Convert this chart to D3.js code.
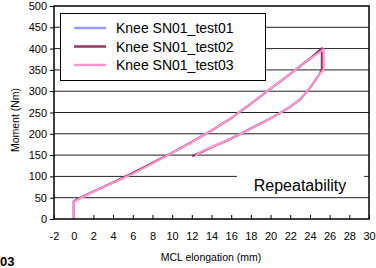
<!DOCTYPE html>
<html>
<head>
<meta charset="utf-8">
<script src="https://cdn.jsdelivr.net/npm/d3@7"></script>
<style>
  body { margin: 0; background: #fff; }
  svg { font-family: "Liberation Sans", Arial, sans-serif; }
</style>
</head>
<body>
<svg id="chart" width="376" height="268"></svg>
<script>
// series names and colours (Excel default palette)
var seriesNames = ['Knee SN01_test01', 'Knee SN01_test02', 'Knee SN01_test03'];
var seriesColors = ['#9999ff', '#993366', '#ff99cc'];

// loading + unloading path, elongation (mm) and moment (Nm)
var test01X = [0, 0, 0.3, 2, 4, 6, 8, 10, 12, 14, 16, 18, 20, 22, 24, 25.3,
               25.3, 25, 24.5, 24, 23, 22, 21, 20, 19, 18, 17, 16, 15, 14, 13, 12.1];
var test01Y = [0, 40, 45, 64, 85, 107, 131, 155, 180, 207, 236, 270, 305, 340, 375, 400,
               353, 342, 325, 308, 281, 264, 250, 237, 225, 213, 201, 190, 179, 169, 158, 147];

var test02X = [0, 0, 0.3, 2, 4, 6, 8, 10, 12, 14, 16, 18, 20, 22, 24, 25.2,
               25.2, 25, 24.5, 24, 23, 22, 21, 20, 19, 18, 17, 16, 15, 14, 13, 12.0];
var test02Y = [0, 41, 46, 65, 86, 108, 132, 156, 181, 208, 237, 271, 306, 341, 377, 401,
               351, 341, 324, 307, 280, 263, 249, 236, 224, 212, 200, 189, 178, 168, 157, 148];

var test03X = [0, 0, 0.3, 2, 4, 6, 8, 10, 12, 14, 16, 18, 20, 22, 24, 25.4,
               25.4, 25, 24.5, 24, 23, 22, 21, 20, 19, 18, 17, 16, 15, 14, 13, 12.4];
var test03Y = [0, 39, 44, 64, 85, 106, 130, 155, 180, 208, 237, 271, 306, 341, 376, 398,
               350, 341, 324, 307, 280, 263, 249, 236, 224, 212, 200, 190, 179, 169, 159, 149];

var xTicks = [-2, 0, 2, 4, 6, 8, 10, 12, 14, 16, 18, 20, 22, 24, 26, 28, 30];
var yTicks = [0, 50, 100, 150, 200, 250, 300, 350, 400, 450, 500];

var allX = [test01X, test02X, test03X];
var allY = [test01Y, test02Y, test03Y];

var svg = d3.select('#chart');
// plot area (don't call it "top", that's window.top)
var plotL = 54, plotR = 369, plotT = 6, plotB = 219;

var x = d3.scaleLinear().domain([-2, 30]).range([plotL, plotR]);
var y = d3.scaleLinear().domain([0, 500]).range([plotB, plotT]);

// plain hyphen minus like the original, not d3's unicode minus
var plainFmt = function(d) { return String(d); };

// horizontal gridlines
svg.append('g')
  .selectAll('line')
  .data(yTicks.slice(1, -1))
  .enter()
  .append('line')
  .attr('x1', plotL).attr('x2', plotR)
  .attr('y1', function(d) { return y(d); })
  .attr('y2', function(d) { return y(d); })
  .attr('stroke', '#222')
  .attr('stroke-width', 1);

// y axis, ticks outward
var yAxis = svg.append('g')
  .attr('transform', 'translate(' + plotL + ',0)')
  .call(d3.axisLeft(y).tickValues(yTicks).tickFormat(plainFmt).tickSize(4).tickPadding(3));
yAxis.select('.domain').remove();
yAxis.selectAll('text').attr('font-size', 11).attr('fill', '#000')
  .attr('font-family', '"Liberation Sans", Arial, sans-serif');
yAxis.selectAll('line').attr('stroke', '#000');

// x axis, ticks point up into the plot
var xAxis = svg.append('g')
  .attr('transform', 'translate(0,' + plotB + ')')
  .call(d3.axisBottom(x).tickValues(xTicks).tickFormat(plainFmt).tickSize(-4).tickPadding(13));
xAxis.select('.domain').remove();
xAxis.selectAll('text').attr('font-size', 11).attr('fill', '#000')
  .attr('font-family', '"Liberation Sans", Arial, sans-serif');
xAxis.selectAll('line').attr('stroke', '#000');

// "Repeatability" label box hides the gridline behind it
svg.append('rect')
  .attr('x', 237).attr('y', 175).attr('width', 127).attr('height', 22)
  .attr('fill', '#fff');
svg.append('text')
  .attr('x', 300).attr('y', 191)
  .attr('text-anchor', 'middle')
  .attr('font-size', 16)
  .text('Repeatability');

// curves
var line = d3.line()
  .x(function(d) { return x(d[0]); })
  .y(function(d) { return y(d[1]); });

seriesNames.forEach(function(name, i) {
  var pts = allX[i].map(function(v, j) { return [v, allY[i][j]]; });
  svg.append('path')
    .datum(pts)
    .attr('d', line)
    .attr('fill', 'none')
    .attr('stroke', seriesColors[i])
    .attr('stroke-width', 2)
    .attr('stroke-linejoin', 'round');
});

// plot frame
svg.append('rect')
  .attr('x', plotL).attr('y', plotT)
  .attr('width', plotR - plotL).attr('height', plotB - plotT)
  .attr('fill', 'none')
  .attr('stroke', '#000')
  .attr('stroke-width', 1.5);

// legend
var legend = svg.append('g');
legend.append('rect')
  .attr('x', 60.5).attr('y', 13.5).attr('width', 205).attr('height', 67)
  .attr('fill', '#fff').attr('stroke', '#000').attr('stroke-width', 1);
seriesNames.forEach(function(name, i) {
  var ly = 28 + i * 18.5;
  legend.append('line')
    .attr('x1', 74).attr('x2', 106)
    .attr('y1', ly).attr('y2', ly)
    .attr('stroke', seriesColors[i]).attr('stroke-width', 2.5);
  legend.append('text')
    .attr('x', 116).attr('y', ly + 5)
    .attr('font-size', 14)
    .text(name);
});

// axis titles
svg.append('text')
  .attr('x', 211).attr('y', 261)
  .attr('text-anchor', 'middle')
  .attr('font-size', 10.5)
  .text('MCL elongation (mm)');
svg.append('text')
  .attr('transform', 'translate(19,120) rotate(-90)')
  .attr('text-anchor', 'middle')
  .attr('font-size', 10.5)
  .text('Moment (Nm)');

// figure label fragment at the bottom left
svg.append('text')
  .attr('x', 0).attr('y', 266)
  .attr('font-size', 13)
  .attr('font-weight', 'bold')
  .text('03');
</script>
</body>
</html>
